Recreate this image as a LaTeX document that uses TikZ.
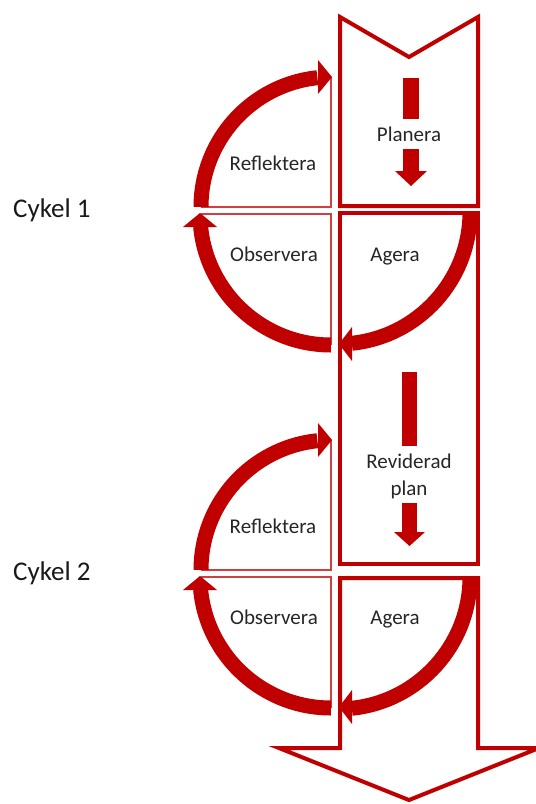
\documentclass[tikz,border=0pt]{standalone}
\usepackage{fontspec}
\setmainfont{Carlito}
\definecolor{dred}{RGB}{192,0,0}
\begin{document}
\begin{tikzpicture}[x=1pt,y=-1pt,
  box/.style={draw=dred, line width=4pt, line join=miter},
  thinline/.style={draw=dred!75, line width=1.3pt},
  band/.style={draw=dred, line width=15pt},
  head/.style={fill=dred, draw=none},
  lbl/.style={font=\fontsize{21}{24}\selectfont, text=black!85, inner sep=0pt, anchor=base},
  cyc/.style={font=\fontsize{27}{31}\selectfont, text=black!90, inner sep=0pt, anchor=base west}]
\clip (0,0) rectangle (536,804);

% main column
\draw[box] (340,17) -- (409,57) -- (478,17) -- (478,206) -- (340,206) -- cycle;
\draw[box] (340,213) rectangle (478,564);
\draw[box] (340,578) -- (340,748) -- (279,748) -- (409,800) -- (539,748) -- (478,748) -- (478,578) -- cycle;

% small arrows
\fill[dred] (403,78) rectangle (419,119);
\fill[dred] (403,149) rectangle (419,171);
\fill[dred] (395,171) -- (427,171) -- (411,186) -- cycle;
\fill[dred] (402,372) rectangle (417,446);
\fill[dred] (402,503) rectangle (417,532);
\fill[dred] (394,532) -- (425,532) -- (409.5,546) -- cycle;

% cycle 1
\draw[thinline] (331,77) -- (331,207) -- (201,207);
\draw[thinline] (201,214) -- (331,214) -- (331,345);
\draw[band] (201,207) arc[start angle=180, end angle=264, radius=130];
\fill[head] (318,60) -- (332,77) -- (318,94) -- cycle;
\draw[band] (331,345) arc[start angle=90, end angle=174.5, radius=131];
\fill[head] (183,227) -- (200,213) -- (217,227) -- cycle;
\draw[band] (470,212) arc[start angle=0, end angle=84, radius=132];
\fill[head] (352,327) -- (339,344) -- (352,361) -- cycle;

% cycle 2
\begin{scope}[shift={(0,363)}]
\draw[thinline] (331,77) -- (331,207) -- (201,207);
\draw[thinline] (201,214) -- (331,214) -- (331,345);
\draw[band] (201,207) arc[start angle=180, end angle=264, radius=130];
\fill[head] (318,60) -- (332,77) -- (318,94) -- cycle;
\draw[band] (331,345) arc[start angle=90, end angle=174.5, radius=131];
\fill[head] (183,227) -- (200,213) -- (217,227) -- cycle;
\draw[band] (470,214) arc[start angle=0, end angle=84, radius=132];
\fill[head] (352,327) -- (339,344) -- (352,361) -- cycle;
\end{scope}

% labels
\node[lbl] (planera) at (409,141) {Planera};
\node[lbl] (refl1) at (273,170) {Reflektera};
\node[lbl] (obs1) at (274,261) {Observera};
\node[lbl] (ag1) at (395,261) {Agera};
\node[lbl] (rev) at (409,468) {Reviderad};
\node[lbl] (plan) at (409,495) {plan};
\node[lbl] (refl2) at (273,533) {Reflektera};
\node[lbl] (obs2) at (274,624) {Observera};
\node[lbl] (ag2) at (395,624) {Agera};
\node[cyc] (c1) at (13,217) {Cykel 1};
\node[cyc] (c2) at (13,580) {Cykel 2};
\end{tikzpicture}
\end{document}
